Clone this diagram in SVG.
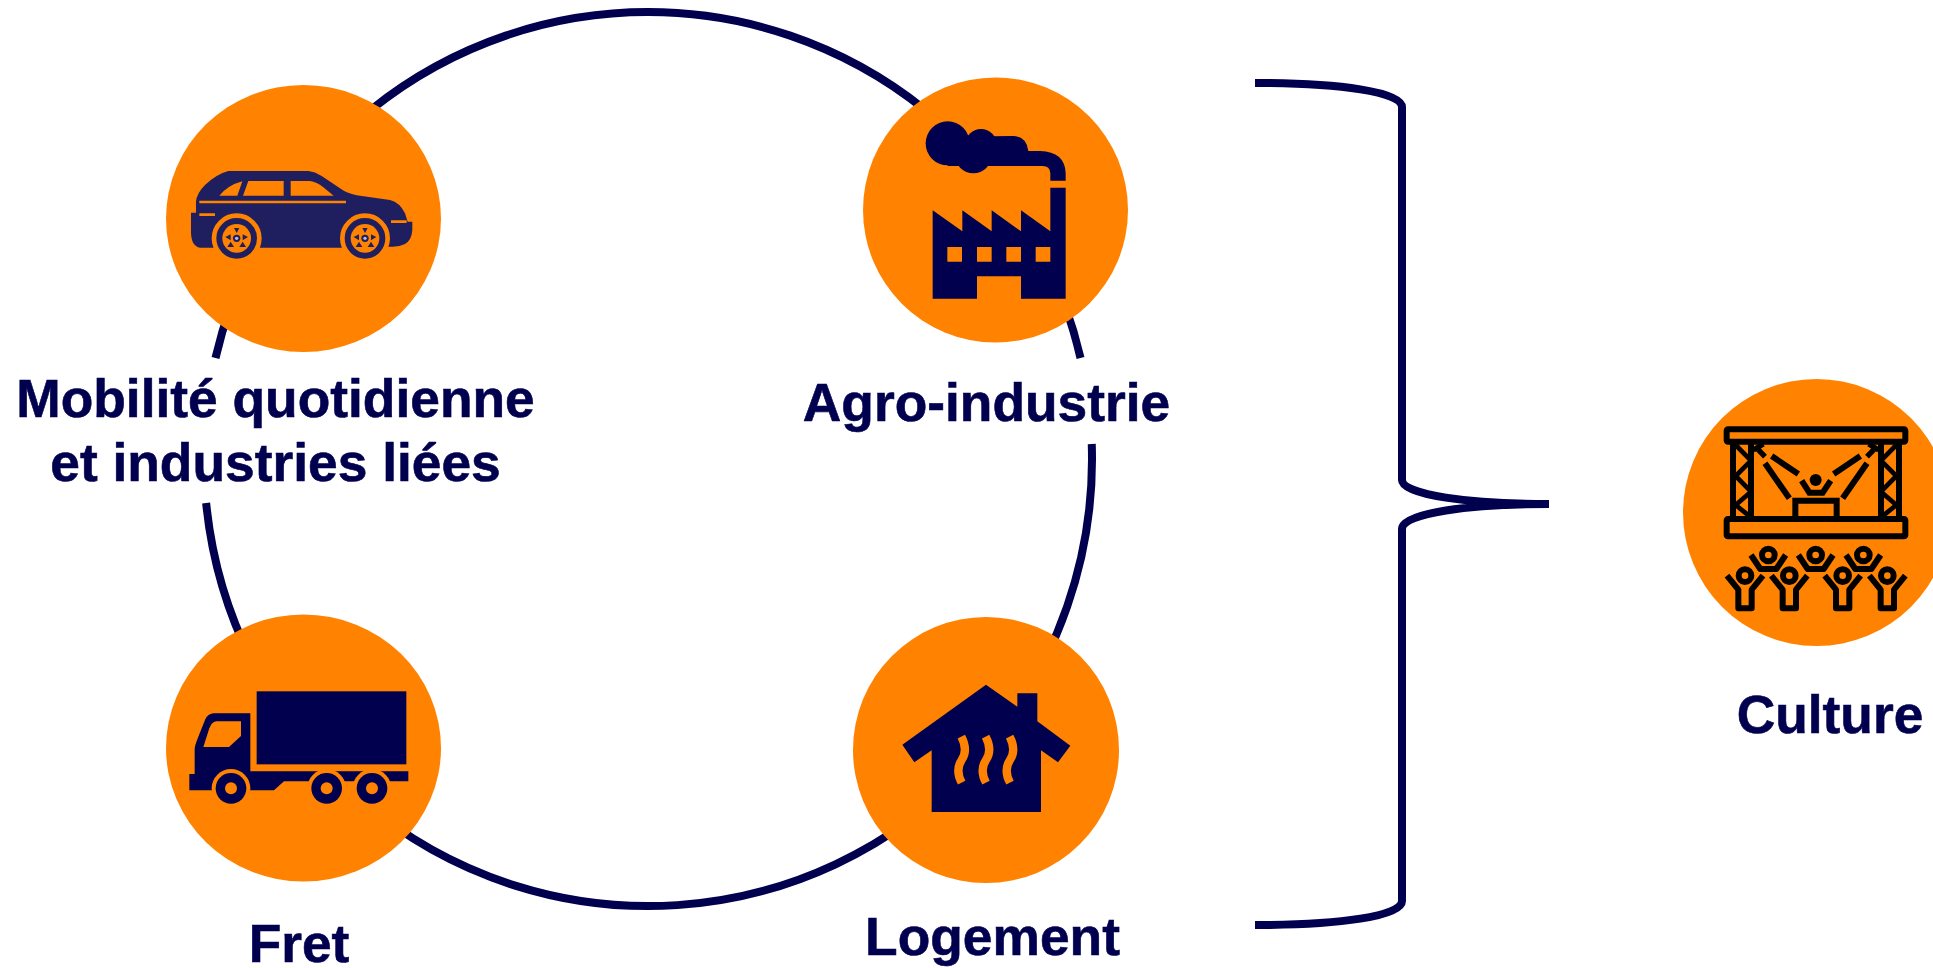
<svg xmlns="http://www.w3.org/2000/svg" width="1933" height="968" viewBox="0 0 1933 968">
<style>
.line{fill:none;stroke:#00004f;stroke-width:8}
.disc{fill:#ff8200}
.navy{fill:#00004f}
.or{fill:#ff8200}
.car{fill:#1f1f5f}
.lab{font-family:"Liberation Sans",Arial,sans-serif;font-weight:700;font-size:53.33px;fill:#00004f;stroke:#00004f;stroke-width:.6;text-anchor:middle}
.blk{fill:none;stroke:#000;stroke-width:18;stroke-linejoin:round}
.heat{fill:none;stroke:#ff8200;stroke-width:25}
</style>
<defs>
<g id="wheelCar">
<circle r="68" fill="#1f1f5f" stroke="#ff8200" stroke-width="14"/>
<circle r="43" fill="#ff8200"/>
<circle r="11" fill="#1f1f5f"/><circle r="5" fill="#b9b9e0"/>
<path class="car" d="M-8-31L8-31L0-16ZM-34-4L-18-12L-18 6ZM-28 26L-18 10L-8 26ZM34-4L18-12L18 6ZM28 26L18 10L8 26Z"/>
</g>
<g id="wheelTruck">
<circle r="58" fill="#ff8200"/>
<circle r="46" fill="#00004f"/>
<circle r="18" fill="#ff8200"/>
</g>
<g id="fanBack" class="blk">
<circle cx="0" cy="0" r="19"/>
<path d="M-52 0L-24 42H24L52 0"/>
</g>
<g id="fanFront" class="blk">
<circle cx="0" cy="0" r="19"/>
<path d="M-54 0L-20 42V98H20V42L54 0"/>
</g>
</defs>

<g id="connectors">
<path class="line" d="M215.5 358A444 447 0 0 1 1080.5 358"/>
<path class="line" d="M1091.75 444A444 447 0 0 1 206.15 503"/>
<path class="line" d="M1255 83C1340 83 1402 92 1402 107L1402 480C1402 495 1470 504 1549 504C1470 504 1402 513 1402 529L1402 901C1402 916 1340 925 1255 925"/>
</g>

<g id="node-mobilite">
<ellipse class="disc" cx="303.5" cy="218.5" rx="137.5" ry="133.5"/>
<g transform="translate(150 70) scale(.33333)">
<path class="car" d="M123 428L138 428L138 395Q140 370 165 345Q200 312 235 303L475 303Q495 305 515 318L570 355Q590 370 620 376L720 390Q750 398 765 430L773 455L787 455L787 480Q785 510 765 522Q745 532 720 530L575 533L335 533L190 533L150 533Q125 530 123 490Z"/>
<path class="or" d="M208 377Q235 345 277 334L262 377ZM279 377L295 333L401 333L401 377ZM422 377L422 333L480 333Q500 335 520 352L551 377ZM148 392H588V400H148ZM148 430H195V438H148ZM723 451H770V459H723Z"/>
<use href="#wheelCar" x="260" y="505"/>
<use href="#wheelCar" x="645" y="505"/>
</g>
<text class="lab" x="275.5" y="417">Mobilité quotidienne</text>
<text class="lab" x="275.5" y="481">et industries liées</text>
</g>

<g id="node-agro">
<circle class="disc" cx="995.5" cy="210" r="132.5"/>
<g transform="translate(850 70) scale(.33333)">
<circle class="navy" cx="293" cy="220" r="66"/>
<circle class="navy" cx="370" cy="255" r="55"/>
<circle class="navy" cx="393" cy="225" r="48"/>
<path class="navy" d="M293 200L490 198Q530 200 535 243L570 243Q645 245 647 310L647 332L601 332L601 310Q600 288 578 288L293 288Z"/>
<path class="navy" d="M248 421L337 484L337 421L425 484L425 421L513 484L513 421L601 484L601 353L647 353L647 686L513 686L513 619L381 619L381 686L248 686Z"/>
<path class="or" d="M292 531h44v44h-44zM381 531h44v44h-44zM469 531h44v44h-44zM557 531h44v44h-44z"/>
</g>
<text class="lab" x="986.5" y="421">Agro-industrie</text>
</g>

<g id="node-fret">
<ellipse class="disc" cx="303.5" cy="748" rx="137.5" ry="133.5"/>
<g transform="translate(150 600) scale(.33333)">
<rect class="navy" x="320" y="274" width="449" height="219"/>
<path class="navy" d="M301 340L190 340Q172 342 165 360L145 410Q135 435 134 445L134 522L118 522L118 571L372 571L402 544L775 544L775 514L301 514Z"/>
<path class="or" d="M200 364L273 364L273 408L237 441L160 441L178 385Q185 365 200 364Z"/>
<use href="#wheelTruck" x="243" y="565"/>
<use href="#wheelTruck" x="530" y="565"/>
<use href="#wheelTruck" x="666" y="565"/>
</g>
<text class="lab" x="299" y="962">Fret</text>
</g>

<g id="node-logement">
<circle class="disc" cx="986" cy="750" r="133"/>
<g transform="translate(840 600) scale(.33333)">
<path class="navy" d="M438 254L532 320L532 280L592 280L592 364L691 437L654 487L603 451L603 636L275 636L275 451L223 487L187 434Z"/>
<path class="heat" d="M364 410Q385 450 365 480Q345 510 365 548"/>
<path class="heat" d="M437 410Q458 450 438 480Q418 510 438 548"/>
<path class="heat" d="M509 410Q530 450 510 480Q490 510 510 548"/>
</g>
<text class="lab" x="992.5" y="955">Logement</text>
</g>

<g id="node-culture">
<circle class="disc" cx="1816.5" cy="512.5" r="133.5"/>
<g transform="translate(1670 370) scale(.33333)">
<rect class="blk" x="170" y="178" width="536" height="37" rx="4"/>
<rect class="blk" x="170" y="447" width="536" height="52" rx="4"/>
<path class="blk" d="M189 215V447M243 215V447M633 215V447M687 215V447"/>
<path class="blk" style="stroke-width:14" d="M197 225L243 272L197 318L243 365L197 405L243 442M679 225L633 272L679 318L633 365L679 405L633 442"/>
<path class="blk" style="stroke-linejoin:miter" d="M305 258L385 312M285 280L358 385M571 258L491 312M591 280L518 385M376 440V392H500V440"/>
<path class="blk" style="stroke-linejoin:miter;stroke-width:16" d="M250 240L280 222M258 232L285 260M626 240L596 222M618 232L591 260"/>
<circle cx="437" cy="330" r="18" fill="#000"/>
<path class="blk" style="stroke-linejoin:miter" d="M395 332L418 368H458L482 332"/>
<use href="#fanBack" x="295" y="555"/>
<use href="#fanBack" x="437" y="555"/>
<use href="#fanBack" x="580" y="555"/>
<use href="#fanFront" x="225" y="617"/>
<use href="#fanFront" x="358" y="617"/>
<use href="#fanFront" x="518" y="617"/>
<use href="#fanFront" x="652" y="617"/>
</g>
<text class="lab" x="1830" y="733">Culture</text>
</g>
</svg>
